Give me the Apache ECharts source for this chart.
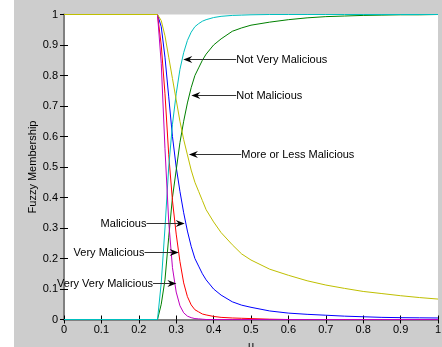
<!DOCTYPE html>
<html>
<head>
<meta charset="utf-8">
<script src="https://cdn.jsdelivr.net/npm/echarts@6/dist/echarts.min.js"></script>
<style>
  html, body { margin: 0; padding: 0; background: #fff; }
  #chart {
    width: 442px;
    height: 347px;
    background: linear-gradient(to right, #ffffff 14px, #cdcdcd 14px);
  }
</style>
</head>
<body>
<div id="chart"></div>
<script>
const uVals = [0, 0.25, 0.26, 0.27, 0.28, 0.29, 0.30, 0.31, 0.32, 0.33, 0.34, 0.35, 0.36, 0.37, 0.38, 0.40, 0.42, 0.45, 0.475, 0.50, 0.55, 0.60, 0.65, 0.70, 0.75, 0.80, 0.85, 0.90, 0.95, 1.00];

const malicious = [1, 1, 0.96, 0.86, 0.73, 0.60, 0.50, 0.42, 0.35, 0.29, 0.24, 0.20, 0.175, 0.15, 0.13, 0.10, 0.08, 0.058, 0.047, 0.040, 0.028, 0.021, 0.017, 0.014, 0.011, 0.009, 0.007, 0.006, 0.0055, 0.005];
const notMalicious = [0, 0, 0.05, 0.13, 0.27, 0.40, 0.49, 0.58, 0.65, 0.71, 0.76, 0.80, 0.825, 0.85, 0.87, 0.90, 0.92, 0.945, 0.956, 0.965, 0.975, 0.983, 0.989, 0.993, 0.995, 0.997, 0.998, 0.999, 0.999, 1];
const veryMalicious = [1, 1, 0.90, 0.74, 0.54, 0.39, 0.28, 0.19, 0.12, 0.075, 0.048, 0.032, 0.025, 0.018, 0.015, 0.010, 0.007, 0.005, 0.004, 0.003, 0.001, 0, 0, 0, 0, 0, 0, 0, 0, 0];
const notVeryMalicious = [0, 0, 0.12, 0.30, 0.50, 0.64, 0.74, 0.82, 0.875, 0.915, 0.942, 0.96, 0.97, 0.978, 0.983, 0.99, 0.994, 0.997, 0.998, 0.999, 1, 1, 1, 1, 1, 1, 1, 1, 1, 1];
const veryVeryMalicious = [1, 1, 0.84, 0.56, 0.32, 0.17, 0.09, 0.045, 0.022, 0.011, 0.006, 0.003, 0.002, 0.001, 0, 0, 0, 0, 0, 0, 0, 0, 0, 0, 0, 0, 0, 0, 0, 0];
const moreOrLess = [1, 1, 0.98, 0.93, 0.86, 0.79, 0.72, 0.65, 0.59, 0.54, 0.49, 0.45, 0.42, 0.39, 0.36, 0.32, 0.285, 0.245, 0.215, 0.195, 0.165, 0.145, 0.127, 0.113, 0.102, 0.092, 0.085, 0.078, 0.072, 0.067];

// arrow labels: text, arrow tip [u, value], u where the text meets the arrow
const annotations = [
  { text: "Not Very Malicious", tip: [0.319, 0.855], from: 0.4605 },
  { text: "Not Malicious", tip: [0.3405, 0.735], from: 0.4605 },
  { text: "More or Less Malicious", tip: [0.334, 0.5425], from: 0.474 },
  { text: "Malicious", tip: [0.3227, 0.318], from: 0.2205 },
  { text: "Very Malicious", tip: [0.3067, 0.2227], from: 0.2152 },
  { text: "Very Very Malicious", tip: [0.3005, 0.121], from: 0.238 },
];

const FONT = "Liberation Sans, Arial, sans-serif";

const pairs = (ys) => uVals.map((u, i) => [u, ys[i]]);

const mkSeries = (name, ys, color, z) => ({
  name,
  type: "line",
  data: pairs(ys),
  showSymbol: false,
  clip: false,
  z,
  lineStyle: { color, width: 1 },
  itemStyle: { color },
});

const chart = echarts.init(document.getElementById("chart"));

const tickCommon = {
  show: true,
  inside: true,
  length: 4,
  lineStyle: { color: "#000", width: 1 },
};

const option = {
  animation: false,
  backgroundColor: "transparent",
  textStyle: { fontFamily: FONT },
  grid: {
    left: 64,
    right: 4,
    top: 14.5,
    bottom: 27.5,
    outerBoundsMode: "none",
    containLabel: false,
    show: true,
    backgroundColor: "#ffffff",
    borderWidth: 0,
  },
  xAxis: [
    {
      type: "value",
      min: 0,
      max: 1,
      interval: 0.1,
      name: "u",
      nameLocation: "middle",
      nameGap: 19,
      nameTextStyle: { fontSize: 11, color: "#000", fontFamily: FONT },
      axisLine: { show: true, lineStyle: { color: "#707070", width: 2 } },
      axisTick: tickCommon,
      axisLabel: { fontSize: 11, color: "#000", margin: 5, fontFamily: FONT },
      splitLine: { show: false },
    },
    {
      type: "value",
      position: "top",
      min: 0,
      max: 1,
      interval: 0.1,
      axisLine: { show: true, lineStyle: { color: "#808080", width: 2 } },
      axisTick: tickCommon,
      axisLabel: { show: false },
      splitLine: { show: false },
    },
  ],
  yAxis: [
    {
      type: "value",
      min: 0,
      max: 1,
      interval: 0.1,
      name: "Fuzzy Membership",
      nameLocation: "middle",
      nameGap: 26,
      nameMoveOverlap: false,
      nameTextStyle: { fontSize: 11, color: "#000", fontFamily: FONT },
      axisLine: { show: true, lineStyle: { color: "#000", width: 1 } },
      axisTick: tickCommon,
      axisLabel: { fontSize: 11, color: "#000", margin: 6, fontFamily: FONT },
      splitLine: { show: false },
    },
    {
      type: "value",
      position: "right",
      min: 0,
      max: 1,
      interval: 0.1,
      axisLine: { show: true, lineStyle: { color: "#808080", width: 2 } },
      axisTick: tickCommon,
      axisLabel: { show: false },
      splitLine: { show: false },
    },
  ],
  // MATLAB colour order: blue, green, red, cyan, magenta, yellow (later ones drawn on top)
  series: [
    mkSeries("Malicious", malicious, "#0000ff", 3),
    mkSeries("Not Malicious", notMalicious, "#008000", 4),
    mkSeries("Very Malicious", veryMalicious, "#ff0000", 5),
    mkSeries("Not Very Malicious", notVeryMalicious, "#00bfbf", 6),
    mkSeries("Very Very Malicious", veryVeryMalicious, "#bf00bf", 7),
    mkSeries("More or Less Malicious", moreOrLess, "#bfbf00", 8),
  ],
};

chart.setOption(option);

// arrows + labels placed through the chart's own scales
const graphics = [];
annotations.forEach((a) => {
  const tip = chart.convertToPixel({ gridIndex: 0 }, a.tip);
  const start = chart.convertToPixel({ gridIndex: 0 }, [a.from, a.tip[1]]);
  const y = Math.round(tip[1]) + 0.5;
  const dir = tip[0] > start[0] ? 1 : -1;
  graphics.push({
    type: "line",
    shape: { x1: start[0], y1: y, x2: tip[0] - dir * 4, y2: y },
    style: { stroke: "#333", lineWidth: 1 },
    z: 100,
  });
  graphics.push({
    type: "polygon",
    shape: {
      points: [
        [tip[0], y],
        [tip[0] - dir * 9, y - 3.5],
        [tip[0] - dir * 6, y],
        [tip[0] - dir * 9, y + 3.5],
      ],
    },
    style: { fill: "#000" },
    z: 100,
  });
  graphics.push({
    type: "text",
    x: start[0],
    y: y,
    style: {
      text: a.text,
      fontSize: 11,
      fontFamily: FONT,
      fill: "#000",
      align: dir > 0 ? "right" : "left",
      verticalAlign: "middle",
    },
    z: 100,
  });
});
chart.setOption({ graphic: graphics });
</script>
</body>
</html>
